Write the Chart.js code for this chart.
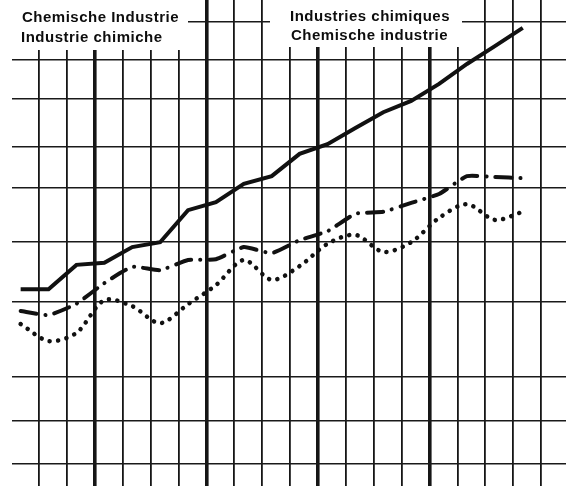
<!DOCTYPE html>
<html>
<head>
<meta charset="utf-8">
<script src="https://cdn.jsdelivr.net/npm/chart.js@4/dist/chart.umd.min.js"></script>
<style>
  html, body { margin: 0; padding: 0; background: #fff; }
  #wrap { width: 566px; height: 486px; }
</style>
</head>
<body>
<div id="wrap"><canvas id="chart" width="566" height="486"></canvas></div>
<script>
// periods (quarters), one point each
const periods = [0, 1, 2, 3, 4, 5, 6, 7, 8, 9, 10, 11, 12, 13, 14, 15, 16, 17, 18];

// arbitrary index units
const solidSeries   = [48.6, 48.6, 54.6, 55.1, 59.0, 60.2, 68.1, 70.1, 74.6, 76.5, 82.0, 84.4, 88.4, 92.3, 95.1, 99.3, 104.2, 108.6, 113.1];
const dashDotSeries = [43.2, 42.2, 45.0, 50.1, 54.1, 53.3, 55.8, 56.0, 59.0, 57.5, 60.7, 62.9, 67.2, 67.7, 69.9, 72.1, 76.5, 76.3, 76.0];
const dottedSeries  = [40.0, 35.8, 37.8, 45.9, 44.4, 40.2, 44.9, 49.6, 55.8, 50.9, 54.3, 59.8, 62.0, 57.8, 60.2, 66.2, 69.6, 65.7, 67.7];

// grid positions (no labels shown on the original)
const xGrid = [0.66, 1.66, 2.66, 3.66, 4.66, 5.66, 6.66, 7.66, 8.66, 9.66, 10.66, 11.66, 12.66, 13.66, 14.66, 15.66, 16.66, 17.66, 18.66];
const yearLines = [2, 6, 10, 14]; // heavy verticals (index into xGrid)
const yGrid = [5.4, 16.0, 26.9, 45.4, 60.2, 73.6, 83.7, 95.6, 105.2, 114.6];

const titleLeft = ['Chemische Industrie', 'Industrie chimiche'];
const titleRight = ['Industries chimiques', 'Chemische industrie'];

const toPoints = arr => arr.map((v, i) => ({ x: periods[i], y: v }));

const paper = {
  id: 'paper',
  beforeDraw(chart) {
    const c = chart.ctx;
    c.save();
    c.fillStyle = '#fff';
    c.fillRect(0, 0, chart.width, chart.height);
    c.restore();
  },
  afterDraw(chart) {
    const c = chart.ctx;
    c.save();
    c.fillStyle = '#fff';
    c.fillRect(0, 0, 188, 50);
    c.fillRect(270, 0, 192, 47);
    c.fillStyle = '#0d0d0d';
    c.font = 'bold 15px "Liberation Sans", Arial, sans-serif';
    c.letterSpacing = '0.5px';
    c.textBaseline = 'alphabetic';
    c.fillText(titleLeft[0], 22, 22);
    c.fillText(titleLeft[1], 21, 42);
    c.fillText(titleRight[0], 290, 21);
    c.fillText(titleRight[1], 291, 40);
    c.restore();
  }
};

new Chart(document.getElementById('chart'), {
  type: 'line',
  data: {
    datasets: [
      {
        data: toPoints(solidSeries),
        borderColor: '#111',
        borderWidth: 4,
        pointRadius: 0,
        tension: 0
      },
      {
        data: toPoints(dashDotSeries),
        borderColor: '#111',
        borderWidth: 4,
        borderDash: [16, 9, 0.1, 9],
        borderCapStyle: 'round',
        pointRadius: 0,
        tension: 0.15
      },
      {
        data: toPoints(dottedSeries),
        borderColor: '#111',
        borderWidth: 4.5,
        borderDash: [0.1, 8.4],
        borderCapStyle: 'round',
        pointRadius: 0,
        tension: 0.3
      }
    ]
  },
  options: {
    responsive: false,
    animation: false,
    layout: { padding: { left: 12, top: 0, right: 0, bottom: 0 } },
    plugins: { legend: { display: false }, tooltip: { enabled: false } },
    scales: {
      x: {
        type: 'linear',
        min: -0.31,
        max: 19.55,
        afterBuildTicks: s => { s.ticks = xGrid.map(v => ({ value: v })); },
        ticks: { display: false },
        border: { display: false },
        grid: {
          drawTicks: false,
          color: '#161616',
          lineWidth: ctx => (yearLines.includes(ctx.index) ? 3.6 : 1.8)
        }
      },
      y: {
        type: 'linear',
        min: 0,
        max: 120,
        afterBuildTicks: s => { s.ticks = yGrid.map(v => ({ value: v })); },
        ticks: { display: false },
        border: { display: false },
        grid: { drawTicks: false, color: '#1a1a1a', lineWidth: 1.5 }
      }
    }
  },
  plugins: [paper]
});
</script>
</body>
</html>
